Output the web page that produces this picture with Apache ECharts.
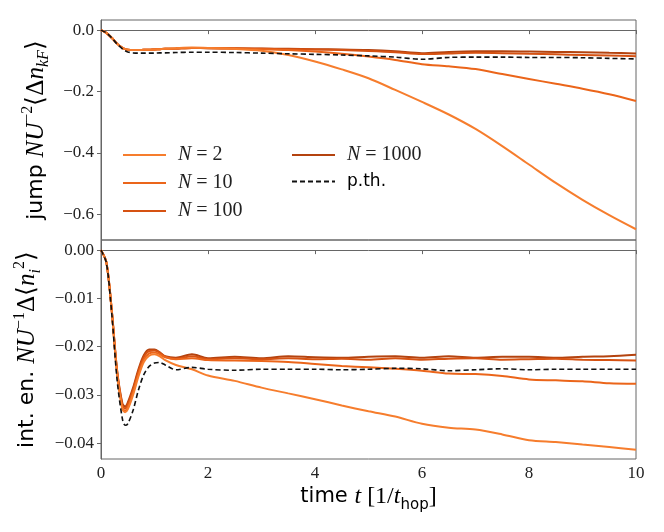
<!DOCTYPE html>
<html>
<head>
<meta charset="utf-8">
<script src="https://cdn.jsdelivr.net/npm/echarts@6/dist/echarts.min.js"></script>
<style>
  html, body { margin: 0; padding: 0; background: #fff; }
  #chart { width: 664px; height: 532px; }
</style>
</head>
<body>
<div id="chart"></div>
<script>
// time grid (same for both panels)
var times = [0, 0.1, 0.2, 0.3, 0.4, 0.45, 0.5, 0.6, 0.7, 0.8, 0.9, 1.0, 1.1, 1.2, 1.4, 1.7, 2, 2.5, 3, 3.5,
    4, 4.5, 5, 5.5, 6, 6.5, 7, 7.5, 8, 8.5, 9, 9.5, 10];

var seriesNames = ['N = 2', 'N = 10', 'N = 100', 'N = 1000', 'p.th.'];
var seriesColors = ['#f67d2d', '#eb651a', '#d65212', '#b4430f', '#111111'];

// top panel: jump  N U^-2 <Δn_kF>
var jumpN2 = [0, -0.009, -0.025, -0.044, -0.058, -0.062, -0.064, -0.065, -0.065, -0.064, -0.064, -0.063, -0.062, -0.061, -0.059, -0.057,
    -0.058, -0.061, -0.067, -0.081, -0.102, -0.128, -0.157, -0.195, -0.234, -0.275, -0.322, -0.378, -0.438, -0.498, -0.553, -0.603, -0.649];
var jumpN10 = [0, -0.009, -0.025, -0.044, -0.058, -0.062, -0.064, -0.065, -0.065, -0.064, -0.064, -0.063, -0.062, -0.061, -0.060, -0.058,
    -0.058, -0.060, -0.062, -0.065, -0.070, -0.077, -0.086, -0.097, -0.111, -0.118, -0.127, -0.143, -0.159, -0.175, -0.191, -0.209, -0.231];
var jumpN100 = [0, -0.009, -0.025, -0.044, -0.058, -0.062, -0.064, -0.065, -0.065, -0.064, -0.064, -0.063, -0.062, -0.061, -0.060, -0.058,
    -0.059, -0.060, -0.061, -0.062, -0.063, -0.065, -0.068, -0.072, -0.078, -0.076, -0.074, -0.075, -0.077, -0.079, -0.081, -0.083, -0.085];
var jumpN1000 = [0, -0.009, -0.025, -0.044, -0.058, -0.062, -0.064, -0.065, -0.065, -0.064, -0.064, -0.063, -0.062, -0.061, -0.060, -0.058,
    -0.059, -0.059, -0.060, -0.061, -0.062, -0.063, -0.065, -0.069, -0.075, -0.071, -0.069, -0.069, -0.070, -0.071, -0.072, -0.074, -0.076];
var jumpPth = [0, -0.009, -0.025, -0.045, -0.061, -0.067, -0.071, -0.074, -0.075, -0.075, -0.075, -0.075, -0.074, -0.074, -0.073, -0.072,
    -0.072, -0.073, -0.075, -0.077, -0.079, -0.081, -0.084, -0.088, -0.095, -0.089, -0.088, -0.088, -0.089, -0.089, -0.090, -0.092, -0.094];

// bottom panel: int. en.  N U^-1 Δ<n_i^2>
var intN2 = [0, -0.0025, -0.0125, -0.0255, -0.0330, -0.0336, -0.0330, -0.0300, -0.0262, -0.0232, -0.0219, -0.0216, -0.0220, -0.0228, -0.0238, -0.0247,
    -0.0260, -0.0271, -0.0285, -0.0297, -0.0309, -0.0322, -0.0334, -0.0345, -0.0360, -0.0368, -0.0372, -0.0382, -0.0394, -0.0398, -0.0403, -0.0408, -0.0414];
var intN10 = [0, -0.0025, -0.0125, -0.0253, -0.0327, -0.0333, -0.0326, -0.0295, -0.0257, -0.0227, -0.0214, -0.0212, -0.0216, -0.0222, -0.0226, -0.0224,
    -0.0228, -0.0229, -0.0230, -0.0232, -0.0236, -0.0240, -0.0243, -0.0246, -0.0250, -0.0256, -0.0257, -0.0261, -0.0268, -0.0270, -0.0272, -0.0276, -0.0277];
var intN100 = [0, -0.0025, -0.0124, -0.0250, -0.0322, -0.0328, -0.0320, -0.0289, -0.0251, -0.0222, -0.0209, -0.0208, -0.0213, -0.0221, -0.0225, -0.0220,
    -0.0226, -0.0224, -0.0226, -0.0224, -0.0226, -0.0225, -0.0227, -0.0224, -0.0227, -0.0225, -0.0224, -0.0227, -0.0226, -0.0225, -0.0227, -0.0228, -0.0229];
var intN1000 = [0, -0.0025, -0.0123, -0.0248, -0.0318, -0.0324, -0.0316, -0.0285, -0.0247, -0.0218, -0.0206, -0.0206, -0.0212, -0.0220, -0.0223, -0.0216,
    -0.0224, -0.0221, -0.0224, -0.0220, -0.0222, -0.0223, -0.0221, -0.0220, -0.0223, -0.0220, -0.0223, -0.0221, -0.0221, -0.0223, -0.0221, -0.0220, -0.0217];
var intPth = [0, -0.0026, -0.0130, -0.0268, -0.0350, -0.0363, -0.0360, -0.0332, -0.0290, -0.0258, -0.0241, -0.0234, -0.0233, -0.0238, -0.0248, -0.0243,
    -0.0247, -0.0249, -0.0247, -0.0247, -0.0247, -0.0248, -0.0247, -0.0245, -0.0246, -0.0250, -0.0248, -0.0246, -0.0248, -0.0247, -0.0247, -0.0247, -0.0247];

var xTicks = [0, 2, 4, 6, 8, 10];
var jumpTicks = [0, -0.2, -0.4, -0.6];
var intTicks = [0, -0.01, -0.02, -0.03, -0.04];

var jumpData = [jumpN2, jumpN10, jumpN100, jumpN1000, jumpPth];
var intData = [intN2, intN10, intN100, intN1000, intPth];

var serif = 'Liberation Serif';
var sans = 'DejaVu Sans';
var frame = '#666';

// legend icons: a plain bar and a dashed bar
var solidIcon = 'path://M0,0h43v2h-43z';
var dashIcon = 'path://M0,0h5v2h-5z M8,0h5v2h-5z M16,0h5v2h-5z M24,0h5v2h-5z M32,0h5v2h-5z M40,0h3v2h-3z';

function pairs(vals) {
    return times.map(function (t, i) { return [t, vals[i]]; });
}
function minusFmt(digits) {
    return function (v) {
        if (v === 0) return (0).toFixed(digits);
        return (v < 0 ? '\u2212' : '') + Math.abs(v).toFixed(digits);
    };
}

var nameRich = {
    s: { fontFamily: sans, fontSize: 22, color: '#000', lineHeight: 32, verticalAlign: 'middle' },
    i: { fontFamily: serif, fontStyle: 'italic', fontSize: 25, color: '#000', lineHeight: 32, verticalAlign: 'middle' },
    n: { fontFamily: serif, fontSize: 25, color: '#000', lineHeight: 32, verticalAlign: 'middle' },
    sup: { fontFamily: serif, fontSize: 16, color: '#000', lineHeight: 32, verticalAlign: 'top' },
    sub: { fontFamily: serif, fontStyle: 'italic', fontSize: 16, color: '#000', lineHeight: 32, verticalAlign: 'bottom' },
    subs: { fontFamily: sans, fontSize: 15, color: '#000', lineHeight: 32, verticalAlign: 'bottom' }
};
var xNameRich = {
    s: { fontFamily: sans, fontSize: 21, color: '#000', lineHeight: 32, verticalAlign: 'middle' },
    i: { fontFamily: serif, fontStyle: 'italic', fontSize: 24, color: '#000', lineHeight: 32, verticalAlign: 'middle' },
    n: { fontFamily: serif, fontSize: 24, color: '#000', lineHeight: 32, verticalAlign: 'middle' },
    subs: { fontFamily: sans, fontSize: 15, color: '#000', lineHeight: 32, verticalAlign: 'bottom' }
};

var legendRich = {
    i: { fontFamily: serif, fontStyle: 'italic', fontSize: 20, color: '#222' },
    m: { fontFamily: serif, fontSize: 20, color: '#222' },
    s: { fontFamily: sans, fontSize: 17, color: '#000' }
};
function legendFmt(name) {
    if (name === 'p.th.') return '{s|p.th.}';
    return '{i|N}{m| = ' + name.slice(4) + '}';
}
function legendItem(k) {
    return {
        name: seriesNames[k],
        icon: seriesNames[k] === 'p.th.' ? dashIcon : solidIcon,
        itemStyle: { color: seriesColors[k], borderWidth: 0 }
    };
}

var chartDom = document.getElementById('chart');
var myChart = echarts.init(chartDom, null, { renderer: 'canvas' });
var option;

var series = [];
seriesNames.forEach(function (name, k) {
    var isPth = name === 'p.th.';
    [jumpData, intData].forEach(function (src, g) {
        series.push({
            name: name,
            type: 'line',
            xAxisIndex: g,
            yAxisIndex: g,
            data: pairs(src[k]),
            showSymbol: false,
            symbol: 'none',
            smooth: 0.3,
            z: isPth ? 10 : 5 - k,
            lineStyle: {
                color: seriesColors[k],
                width: isPth ? 1.6 : 2,
                type: isPth ? [5, 3] : 'solid'
            },
            itemStyle: { color: seriesColors[k] }
        });
    });
});

option = {
    backgroundColor: '#fff',
    animation: false,
    grid: [
        { left: 101, right: 28, top: 20, height: 220, show: true, borderColor: frame, borderWidth: 1 },
        { left: 101, right: 28, top: 240, bottom: 73, show: true, borderColor: frame, borderWidth: 1 }
    ],
    legend: [
        {
            data: [legendItem(0), legendItem(1), legendItem(2)],
            orient: 'vertical',
            left: 118, top: 140,
            itemWidth: 43, itemHeight: 2, itemGap: 8,
            formatter: legendFmt,
            textStyle: { rich: legendRich, padding: [0, 0, 0, 7] }
        },
        {
            data: [legendItem(3), legendItem(4)],
            orient: 'vertical',
            left: 287, top: 140,
            itemWidth: 43, itemHeight: 2, itemGap: 8,
            formatter: legendFmt,
            textStyle: { rich: legendRich, padding: [0, 0, 0, 7] }
        }
    ],
    xAxis: [
        {
            type: 'value', gridIndex: 0, min: 0, max: 10,
            axisLine: { show: true, lineStyle: { color: frame } },
            axisTick: { show: true, length: 4, lineStyle: { color: frame }, customValues: xTicks },
            axisLabel: { show: false },
            splitLine: { show: false }
        },
        {
            type: 'value', gridIndex: 1, min: 0, max: 10,
            axisLine: { show: true, lineStyle: { color: frame } },
            axisTick: { show: true, length: 4, lineStyle: { color: frame }, customValues: xTicks },
            axisLabel: { show: true, customValues: xTicks, fontFamily: serif, fontSize: 17, color: '#222', margin: 6 },
            splitLine: { show: false },
            name: '{s|time }{i|t}{n| [1/}{i|t}{subs|hop}{n|]}',
            nameLocation: 'middle',
            nameGap: 22,
            nameTextStyle: { rich: xNameRich }
        }
    ],
    yAxis: [
        {
            type: 'value', gridIndex: 0, min: -0.684, max: 0.033,
            axisLine: { show: true, lineStyle: { color: frame } },
            axisTick: { show: true, length: 4, lineStyle: { color: frame }, customValues: jumpTicks },
            axisLabel: { show: true, customValues: jumpTicks, formatter: minusFmt(1), fontFamily: serif, fontSize: 17, color: '#222', margin: 7 },
            splitLine: { show: false },
            name: '{s|jump }{i|NU}{sup|\u22122}{n|\u27e8\u0394}{i|n}{sub|k}{sub|F}{n|\u27e9}',
            nameLocation: 'middle',
            nameGap: 41,
            nameTextStyle: { rich: nameRich }
        },
        {
            type: 'value', gridIndex: 1, min: -0.0433, max: 0.0021,
            axisLine: { show: true, lineStyle: { color: frame } },
            axisTick: { show: true, length: 4, lineStyle: { color: frame }, customValues: intTicks },
            axisLabel: { show: true, customValues: intTicks, formatter: minusFmt(2), fontFamily: serif, fontSize: 17, color: '#222', margin: 7 },
            splitLine: { show: false },
            name: '{s|int. en. }{i|NU}{sup|\u22121}{n|\u0394\u27e8}{i|n}{sub|i}{sup|2}{n|\u27e9}',
            nameLocation: 'middle',
            nameGap: 51,
            nameTextStyle: { rich: nameRich }
        }
    ],
    series: series
};
option && myChart.setOption(option);
</script>
</body>
</html>
